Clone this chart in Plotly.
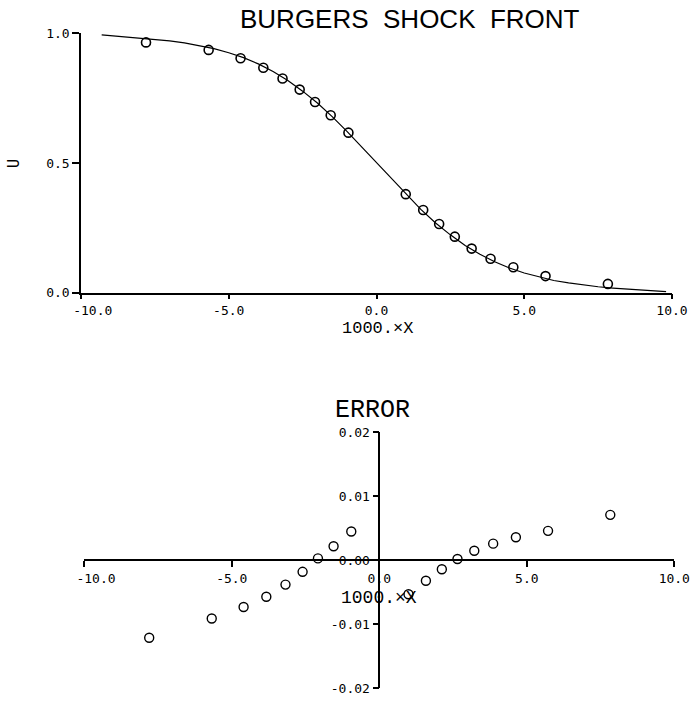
import plotly.graph_objects as go

# ---- data ----
x_pts = [-7.80, -5.68, -4.60, -3.83, -3.18, -2.60, -2.08, -1.55, -0.95,
         0.99, 1.58, 2.12, 2.65, 3.22, 3.86, 4.63, 5.72, 7.83]
u_pts = [0.965, 0.936, 0.904, 0.867, 0.826, 0.783, 0.735, 0.684, 0.617,
         0.380, 0.319, 0.265, 0.216, 0.170, 0.131, 0.098, 0.064, 0.034]
err_pts = [-0.0121, -0.0091, -0.0073, -0.0057, -0.0038, -0.0018, 0.0003, 0.0022, 0.0045,
           -0.0053, -0.0032, -0.0014, 0.0002, 0.0015, 0.0026, 0.0036, 0.0046, 0.0071]

x_curve = [-9.3, -9.0, -8.5, -8.0, -7.5, -7.0, -6.5, -6.0, -5.5, -5.0, -4.5, -4.0,
           -3.5, -3.0, -2.5, -2.0, -1.5, -1.0, -0.5, 0.0, 0.5, 1.0, 1.5, 2.0, 2.5,
           3.0, 3.5, 4.0, 4.5, 5.0, 5.5, 6.0, 6.5, 7.0, 7.5, 8.0, 8.5, 9.0, 9.5, 9.8]
u_curve = [0.994, 0.991, 0.987, 0.982, 0.977, 0.971, 0.963, 0.953, 0.941, 0.925, 0.906, 0.882,
           0.853, 0.818, 0.777, 0.731, 0.679, 0.622, 0.562, 0.500, 0.438, 0.378, 0.321, 0.269, 0.223,
           0.182, 0.148, 0.119, 0.095, 0.076, 0.060, 0.047, 0.038, 0.030, 0.023, 0.018, 0.014, 0.010, 0.006, 0.004]

x_ticks = [-10, -5, 0, 5, 10]
x_tick_labels = ["-10.0", "-5.0", "0.0", "5.0", "10.0"]
u_ticks = [0, 0.5, 1.0]
u_tick_labels = ["0.0", "0.5", "1.0"]
e_ticks = [-0.02, -0.01, 0.0, 0.01, 0.02]
e_tick_labels = ["-0.02", "-0.01", "0.00", "0.01", "0.02"]

W, H = 695, 701
MONO = "DejaVu Sans Mono"
SANS = "Liberation Sans"

# the plotter placed the first x label slightly right of its tick
x_tick_text = ["\u00a0\u00a0\u00a0" + x_tick_labels[0]] + x_tick_labels[1:]

fig = go.Figure()
fig.add_trace(go.Scatter(x=x_curve, y=u_curve, mode="lines",
                         line=dict(color="black", width=1.2),
                         xaxis="x", yaxis="y", showlegend=False))
fig.add_trace(go.Scatter(x=x_pts, y=u_pts, mode="markers",
                         marker=dict(symbol="circle-open", size=9, color="black",
                                     line=dict(width=1.6, color="black")),
                         xaxis="x", yaxis="y", showlegend=False))
fig.add_trace(go.Scatter(x=x_pts, y=err_pts, mode="markers",
                         marker=dict(symbol="circle-open", size=9, color="black",
                                     line=dict(width=1.4, color="black")),
                         xaxis="x2", yaxis="y2", showlegend=False))

# pixel geometry -> paper fractions
top_x0, top_x1 = 81 / W, 672 / W
top_y0, top_y1 = 1 - 292.7 / H, 1 - 33.3 / H
bot_x0, bot_x1 = 84.3 / W, 674.3 / W
bot_y0, bot_y1 = 1 - 688.3 / H, 1 - 432.3 / H

tickfont = dict(family=MONO, size=13, color="black")
axis_common = dict(showgrid=False, zeroline=False, showline=True, linecolor="black",
                   linewidth=1.5, ticks="outside", tickcolor="black", tickwidth=1.5,
                   tickfont=tickfont, fixedrange=True, automargin=False)

fig.update_layout(
    width=W, height=H,
    margin=dict(l=0, r=0, t=0, b=0, pad=0, autoexpand=False),
    paper_bgcolor="white", plot_bgcolor="white",
    xaxis=dict(domain=[top_x0, top_x1], range=[-10, 10], anchor="y",
               tickmode="array", tickvals=x_ticks, ticktext=x_tick_text,
               ticklen=5, **axis_common),
    yaxis=dict(domain=[top_y0, top_y1], range=[0, 1], anchor="x",
               tickmode="array", tickvals=u_ticks, ticktext=u_tick_labels,
               ticklen=7, **axis_common),
    xaxis2=dict(domain=[bot_x0, bot_x1], range=[-10, 10], anchor="free",
                position=(bot_y0 + bot_y1) / 2,
                tickmode="array", tickvals=x_ticks, ticktext=x_tick_text,
                ticklen=6, **axis_common),
    yaxis2=dict(domain=[bot_y0, bot_y1], range=[-0.02, 0.02], anchor="free",
                position=(bot_x0 + bot_x1) / 2,
                tickmode="array", tickvals=e_ticks, ticktext=e_tick_labels,
                ticklen=6, **axis_common),
    annotations=[
        dict(text="BURGERS\u00a0 SHOCK\u00a0 FRONT", x=410 / W, y=1 - 19 / H,
             xref="paper", yref="paper", showarrow=False,
             font=dict(family=SANS, size=26, color="black"),
             xanchor="center", yanchor="middle"),
        dict(text="U", x=14 / W, y=1 - 163 / H, xref="paper", yref="paper",
             showarrow=False, textangle=-90,
             font=dict(family=MONO, size=15, color="black"),
             xanchor="center", yanchor="middle"),
        dict(text="1000.×X", x=377 / W, y=1 - 328 / H, xref="paper", yref="paper",
             showarrow=False, font=dict(family="Liberation Mono", size=17, color="black"),
             xanchor="center", yanchor="middle"),
        dict(text="ERROR", x=373 / W, y=1 - 410 / H, xref="paper", yref="paper",
             showarrow=False, font=dict(family="Liberation Mono", size=25, color="black"),
             xanchor="center", yanchor="middle"),
        dict(text="1000.×X", x=379 / W, y=1 - 598 / H, xref="paper", yref="paper",
             showarrow=False, font=dict(family="Liberation Mono", size=18, color="black"),
             xanchor="center", yanchor="middle"),
    ],
)

fig.write_html("out.html")
